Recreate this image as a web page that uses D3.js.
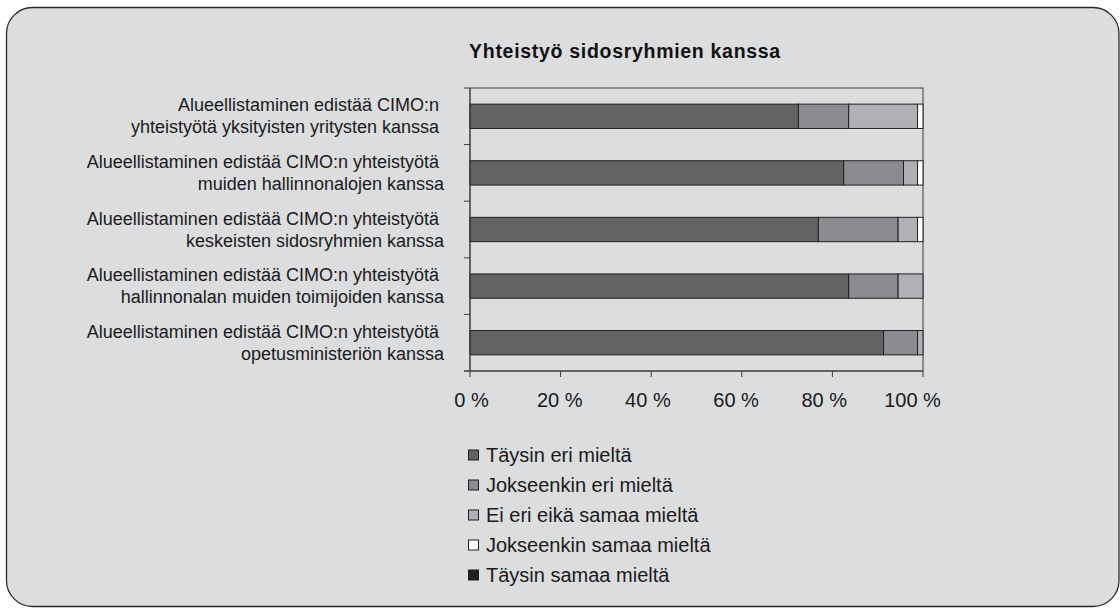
<!DOCTYPE html>
<html>
<head>
<meta charset="utf-8">
<script src="https://cdn.jsdelivr.net/npm/d3@7"></script>
<style>
  body { margin: 0; background: #fff; }
  svg { display: block; font-family: "Liberation Sans", Arial, sans-serif; }
</style>
</head>
<body>
<div class="canvas"></div>
<script>
// data
const categories = [
  ["Alueellistaminen edistää CIMO:n ", "yhteistyötä yksityisten yritysten kanssa "],
  ["Alueellistaminen edistää CIMO:n yhteistyötä ", "muiden hallinnonalojen kanssa"],
  ["Alueellistaminen edistää CIMO:n yhteistyötä ", "keskeisten sidosryhmien kanssa"],
  ["Alueellistaminen edistää CIMO:n yhteistyötä ", "hallinnonalan muiden toimijoiden kanssa"],
  ["Alueellistaminen edistää CIMO:n yhteistyötä ", "opetusministeriön kanssa"]
];
const seriesNames = [
  "Täysin eri mieltä",
  "Jokseenkin eri mieltä",
  "Ei eri eikä samaa mieltä",
  "Jokseenkin samaa mieltä",
  "Täysin samaa mieltä"
];
const taysinEri = [72.5, 82.5, 76.9, 83.6, 91.3];
const jokseenkinEri = [11.1, 13.2, 17.6, 10.9, 7.5];
const eiEriEikaSamaa = [15.2, 3.1, 4.3, 5.5, 1.2];
const jokseenkinSamaa = [1.2, 1.2, 1.2, 0, 0];
const taysinSamaa = [0, 0, 0, 0, 0];
const xTicks = [0, 20, 40, 60, 80, 100];
const title = "Yhteistyö sidosryhmien kanssa";

const colors = ["#636365", "#8b8c8f", "#b0b1b4", "#ffffff", "#231f20"];

const width = 1120;
const height = 608;
const margin = { top: 88, right: 197, bottom: 237, left: 470 };
const graphWidth = width - margin.left - margin.right;
const graphHeight = height - margin.top - margin.bottom;

const svg = d3
  .select(".canvas")
  .append("svg")
  .attr("width", width)
  .attr("height", height);

//rounded frame
svg
  .append("rect")
  .attr("x", 6.5)
  .attr("y", 7.5)
  .attr("width", 1112.5)
  .attr("height", 599)
  .attr("rx", 26)
  .attr("fill", "#dcdddf")
  .attr("stroke", "#2b2b2b")
  .attr("stroke-width", 1.3);

//title
svg
  .append("text")
  .attr("x", 625)
  .attr("y", 58)
  .attr("text-anchor", "middle")
  .attr("font-weight", "bold")
  .attr("font-size", 19.5)
  .attr("letter-spacing", 0.7)
  .attr("fill", "#111")
  .text(title);

const graph = svg
  .append("g")
  .attr("transform", `translate(${margin.left},${margin.top})`);

//scales
const x = d3.scaleLinear().domain([0, 100]).range([0, graphWidth]);
const y = d3
  .scaleBand()
  .domain(d3.range(categories.length))
  .range([0, graphHeight])
  .paddingInner(0.57)
  .paddingOuter(0.285);
// tick labels sit a little inward in the original
const xLabel = d3.scaleLinear().domain([0, 100]).range([1.5, 442.5]);

//stack the series
const rows = categories.map((c, i) => ({
  i,
  s0: taysinEri[i],
  s1: jokseenkinEri[i],
  s2: eiEriEikaSamaa[i],
  s3: jokseenkinSamaa[i],
  s4: taysinSamaa[i]
}));
const stacked = d3.stack().keys(["s0", "s1", "s2", "s3", "s4"])(rows);

//plot frame
graph
  .append("rect")
  .attr("width", graphWidth)
  .attr("height", graphHeight)
  .attr("fill", "none")
  .attr("stroke", "#3a3a3a")
  .attr("stroke-width", 1);

//bars
graph
  .selectAll("g.series")
  .data(stacked)
  .enter()
  .append("g")
  .attr("class", "series")
  .attr("fill", (d, k) => colors[k])
  .selectAll("rect")
  .data((d) => d.filter((p) => p[1] - p[0] > 0))
  .enter()
  .append("rect")
  .attr("x", (d) => x(d[0]))
  .attr("width", (d) => x(d[1]) - x(d[0]))
  .attr("y", (d) => y(d.data.i))
  .attr("height", y.bandwidth())
  .attr("stroke", "#231f20")
  .attr("stroke-width", 1);

//y axis line + ticks at band edges
const yAxisGroup = graph.append("g").attr("stroke", "#3a3a3a");
yAxisGroup
  .append("line")
  .attr("x1", 0)
  .attr("x2", 0)
  .attr("y1", 0)
  .attr("y2", graphHeight);
yAxisGroup
  .selectAll("line.tick")
  .data(d3.range(categories.length + 1))
  .enter()
  .append("line")
  .attr("class", "tick")
  .attr("x1", -6)
  .attr("x2", 0)
  .attr("y1", (d) => d * y.step())
  .attr("y2", (d) => d * y.step());

//category labels
const labels = graph
  .selectAll("text.cat")
  .data(categories)
  .enter()
  .append("text")
  .attr("class", "cat")
  .attr("text-anchor", "end")
  .attr("font-size", 18)
  .attr("fill", "#1a1a1a")
  .style("white-space", "pre")
  .attr("transform", (d, i) => `translate(-26,${y(i) + y.bandwidth() / 2})`);
labels
  .selectAll("tspan")
  .data((d) => d)
  .enter()
  .append("tspan")
  .attr("x", 0)
  .attr("y", (d, j) => (j === 0 ? -5 : 17))
  .text((d) => d);

//x axis
const xAxisGroup = graph
  .append("g")
  .attr("transform", `translate(0,${graphHeight})`);
xAxisGroup
  .append("line")
  .attr("x1", -6)
  .attr("x2", graphWidth)
  .attr("stroke", "#3a3a3a");
xAxisGroup
  .selectAll("line.tick")
  .data(xTicks)
  .enter()
  .append("line")
  .attr("class", "tick")
  .attr("x1", (d) => x(d))
  .attr("x2", (d) => x(d))
  .attr("y1", 0)
  .attr("y2", 6)
  .attr("stroke", "#3a3a3a");
xAxisGroup
  .selectAll("text")
  .data(xTicks)
  .enter()
  .append("text")
  .attr("x", (d) => xLabel(d))
  .attr("y", 36)
  .attr("text-anchor", "middle")
  .attr("font-size", 20)
  .attr("fill", "#1a1a1a")
  .text((d) => d + " %");

//legend
const legend = svg
  .append("g")
  .attr("transform", "translate(468,455)");
const items = legend
  .selectAll("g")
  .data(seriesNames)
  .enter()
  .append("g")
  .attr("transform", (d, i) => `translate(0,${i * 30})`);
items
  .append("rect")
  .attr("x", 0.5)
  .attr("y", -5)
  .attr("width", 10)
  .attr("height", 10)
  .attr("fill", (d, i) => colors[i])
  .attr("stroke", "#231f20")
  .attr("stroke-width", 1);
items
  .append("text")
  .attr("x", 18)
  .attr("y", 7)
  .attr("font-size", 20)
  .attr("fill", "#1a1a1a")
  .text((d) => d);
</script>
</body>
</html>
